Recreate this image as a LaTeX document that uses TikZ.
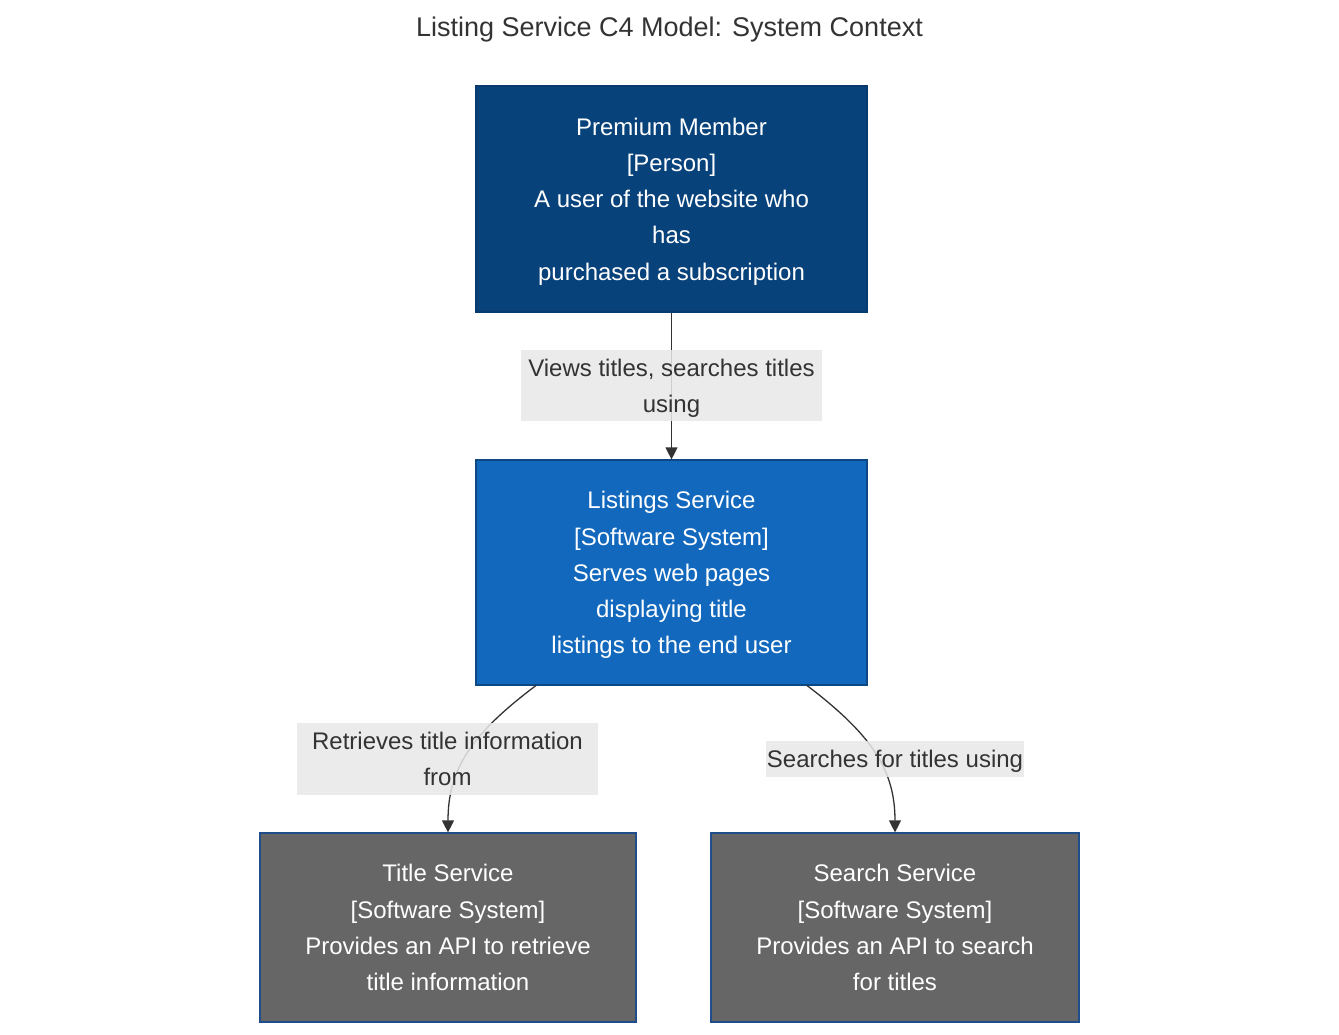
\documentclass[tikz,border=0pt]{standalone}
\usepackage{fontspec}
\setmainfont{Liberation Sans}
\usetikzlibrary{arrows.meta}
\definecolor{personfill}{HTML}{08427B}
\definecolor{personline}{HTML}{073B6F}
\definecolor{sysfill}{HTML}{1168BD}
\definecolor{sysline}{HTML}{0B4884}
\definecolor{extfill}{HTML}{666666}
\definecolor{extline}{HTML}{1F4E8A}
\definecolor{labelfill}{HTML}{E8E8E8}
\definecolor{ink}{HTML}{333333}
\tikzset{
  boxtxt/.style={font=\fontsize{24}{36.2}\selectfont, text=white, align=center, inner sep=0pt, line width=1.2pt, text depth=0pt},
  personbox/.style={boxtxt, fill=personfill, draw=personline, minimum width=391pt, minimum height=226pt},
  sysbox/.style={boxtxt, fill=sysfill, draw=sysline, minimum width=391pt, minimum height=225pt},
  extbox/.style={boxtxt, fill=extfill, draw=extline, minimum height=189pt},
  edgelabel/.style={font=\fontsize{24}{36.2}\selectfont, text=ink, align=center, inner sep=0pt, text depth=0pt, fill=labelfill, fill opacity=0.85, text opacity=1},
  relarrow/.style={draw=ink, line width=1.3pt, -{Triangle[length=12pt,width=12pt]}}
}
\begin{document}
\begin{tikzpicture}[x=1pt,y=-1pt]
\useasboundingbox (0,0) rectangle (1339,1035);
\node[font=\fontsize{27}{32}\selectfont, text=ink] (title) at (669.5,30) {Listing Service C4 Model: System Context};

\node[personbox] (pm) at (671.5,199) {Premium Member\\ {[Person]}\\ A user of the website who\\ has\\ purchased a subscription};
\node[sysbox] (ls) at (671.5,572.5) {Listings Service\\ {[Software System]}\\ Serves web pages\\ displaying title\\ listings to the end user};
\node[extbox, minimum width=376pt] (ts) at (448,927.5) {Title Service\\ {[Software System]}\\ Provides an API to retrieve\\ title information};
\node[extbox, minimum width=368pt] (ss) at (895,927.5) {Search Service\\ {[Software System]}\\ Provides an API to search\\ for titles};

\coordinate (lsl) at (536,685.5);
\coordinate (lsr) at (807,685.5);
\draw[relarrow] (pm.south) -- (ls.north);
\draw[relarrow] (lsl) .. controls (470,735) and (448,770) .. (ts.north);
\draw[relarrow] (lsr) .. controls (872,735) and (895,770) .. (ss.north);

\node[edgelabel, minimum width=301pt, minimum height=71pt] (l1) at (671.5,385.5) {Views titles, searches titles\\ using};
\node[edgelabel, minimum width=301pt, minimum height=72pt] (l2) at (447.5,759) {Retrieves title information\\ from};
\node[edgelabel, minimum width=258pt, minimum height=36pt] (l3) at (895,759) {Searches for titles using};
\end{tikzpicture}
\end{document}
